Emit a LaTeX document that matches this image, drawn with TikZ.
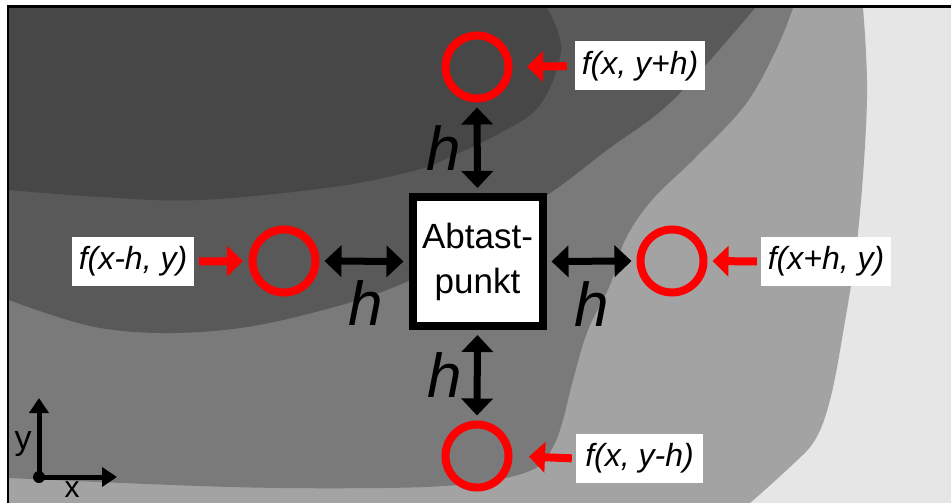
\documentclass[tikz,border=0pt]{standalone}
\usepackage{fontspec}
\setmainfont{Liberation Sans}
\usetikzlibrary{arrows.meta}
\definecolor{cA}{RGB}{71,71,71}
\definecolor{cB}{RGB}{89,89,89}
\definecolor{cC}{RGB}{122,122,122}
\definecolor{cD}{RGB}{163,163,163}
\definecolor{cE}{RGB}{230,230,230}
\definecolor{rd}{RGB}{255,0,0}
\begin{document}
\begin{tikzpicture}[x=1pt,y=-1pt,
  ring/.style={circle,draw=rd,line width=8pt,minimum size=63pt,inner sep=0pt},
  boxst/.style={draw=black,line width=8pt,fill=white,minimum width=130pt,minimum height=129pt,inner sep=0pt,align=center,font=\fontsize{35}{45}\selectfont},
  lab/.style={fill=white,font=\fontsize{32}{38}\selectfont\itshape,minimum height=49pt,inner xsep=6pt,inner ysep=0pt},
  hlab/.style={font=\fontsize{62}{70}\selectfont\itshape,anchor=base,inner sep=0pt},
  dbl/.style={line width=7pt,{Triangle[width=31pt,length=17pt]}-{Triangle[width=31pt,length=17pt]},shorten <=5pt,shorten >=5pt},
  redarr/.style={draw=rd,line width=8pt,-{Triangle[width=30pt,length=16pt]}},
  axarr/.style={line width=5pt,-{Triangle[width=19pt,length=15pt]}},
  axlab/.style={font=\fontsize{34}{40}\selectfont,anchor=base,inner sep=0pt}]
\useasboundingbox (0,0) rectangle (951,503);
\clip (0,0) rectangle (951,503);
\fill[white] (0,0) rectangle (951,503);
% contour bands
\fill[cE] (9,8) rectangle (951,503);
\fill[cD] (9,8) -- plot[smooth,tension=0.6] coordinates {(863,8) (867,100) (858,233) (843,333) (830,400) (815,440) (790,467) (750,503)} -- (9,503) -- cycle;
\fill[cC] (9,8) -- plot[smooth,tension=0.6] coordinates {(793,8) (776,50) (745,105) (695,158) (652,200) (625,240) (610,285) (588,330) (573,380) (563,420) (553,447) (536,468) (497,480) (459,485) (383,488) (230,487) (9,478)} -- cycle;
\fill[cB] (9,8) -- plot[smooth,tension=0.6] coordinates {(755,8) (673,100) (607,150) (540,200) (417,277) (300,316) (200,332) (100,328) (9,300)} -- cycle;
\fill[cA] (9,8) -- plot[smooth,tension=0.6] coordinates {(547,8) (561,50) (540,105) (500,133) (450,157) (417,170) (333,187) (200,200) (100,197) (9,190)} -- cycle;
% frame
\draw[line width=3pt] (7,6.5) -- (951,6.5);
\draw[line width=2.2pt] (8,5) -- (8,503);
% main nodes
\node[boxst] (box) at (477.5,261.5) {Abtast-\\punkt};
\node[ring] (ct) at (477,67) {};
\node[ring] (cb) at (477,456) {};
\node[ring] (cl) at (284,261) {};
\node[ring] (cr) at (672,261) {};
% labels
\node[lab,minimum width=130pt] (lt) at (640,66) {f(x, y+h)};
\node[lab,minimum width=122pt] (ll) at (133,261.5) {f(x-h, y)};
\node[lab,minimum width=130pt] (lr) at (826,261.5) {f(x+h, y)};
\node[lab,minimum width=127pt] (lb) at (639.5,458.5) {f(x, y-h)};
% h labels
\node[hlab] (ht) at (444,170) {h};
\node[hlab] (hl) at (365.5,325) {h};
\node[hlab] (hr) at (591.5,326) {h};
\node[hlab] (hb) at (445,397) {h};
% double arrows
\draw[dbl] (ct.south) -- (box.north);
\draw[dbl] (cl.east) -- (box.west);
\draw[dbl] (box.east) -- (cr.west);
\draw[dbl] (box.south) -- (cb.north);
% red arrows
\draw[redarr,shorten <=8pt,shorten >=14.5pt] (lt.west) -- (ct.east);
\draw[redarr,shorten <=5pt,shorten >=5.5pt] (ll.east) -- (cl.west);
\draw[redarr,shorten <=4pt,shorten >=5pt] (lr.west) -- (cr.east);
\draw[redarr,shorten <=4pt,shorten >=16.5pt] (lb.west) -- (cb.east);
% axes
\coordinate (o) at (39,477);
\coordinate (yt) at (39,398);
\coordinate (xt) at (117,477);
\draw[axarr] (o) -- (yt);
\draw[axarr] (o) -- (xt);
\fill (o) circle (6pt);
\node[axlab] (ylab) at (23,449) {y};
\node[axlab,font=\fontsize{30}{36}\selectfont] (xlab) at (72,497.5) {x};
\end{tikzpicture}
\end{document}
